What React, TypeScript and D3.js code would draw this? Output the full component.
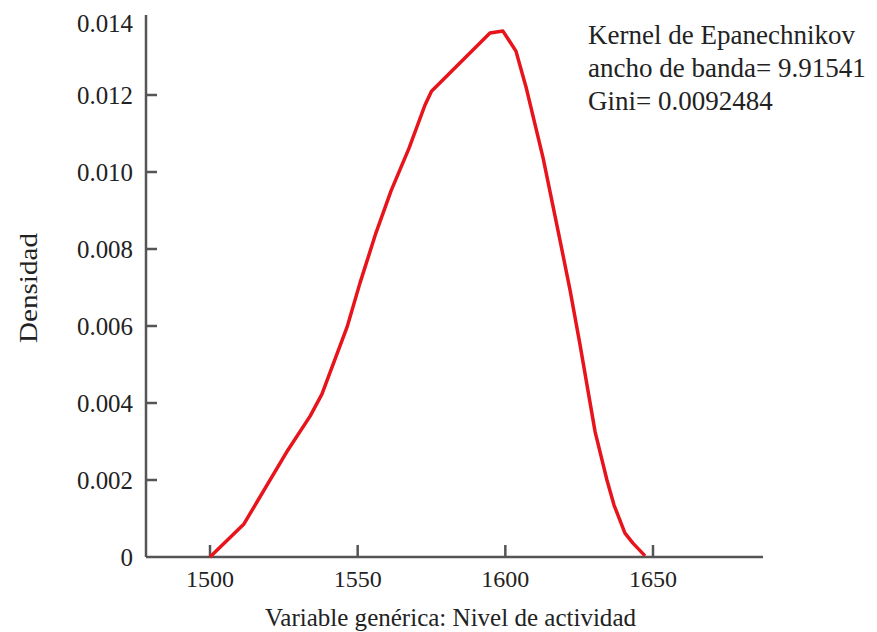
import React from "react";
import * as d3 from "d3";

const xs = [1500, 1511.5, 1526.4, 1533.9, 1537.9, 1546.4, 1550.8, 1556.2, 1561.3, 1567.4, 1572.8, 1575.0, 1594.8, 1599.2, 1603.6, 1607.0, 1612.8, 1618.5, 1621.9, 1625.3, 1630.4, 1634.4, 1636.8, 1640.5, 1643.2, 1647.3];
const ys = [0, 0.00086, 0.00278, 0.00366, 0.00423, 0.00597, 0.00712, 0.00842, 0.00951, 0.01062, 0.01174, 0.0121, 0.01361, 0.01366, 0.01314, 0.01221, 0.01036, 0.00823, 0.00694, 0.00551, 0.00325, 0.002, 0.00135, 0.00062, 0.00036, 0.00003];
const xTicks = [1500, 1550, 1600, 1650];
const yTicks = [0, 0.002, 0.004, 0.006, 0.008, 0.01, 0.012, 0.014];
const yTickLabels = ["0", "0.002", "0.004", "0.006", "0.008", "0.010", "0.012", "0.014"];
const noteLines = ["Kernel de Epanechnikov", "ancho de banda= 9.91541", "Gini= 0.0092484"];

const FONT = "'Liberation Serif', 'DejaVu Serif', serif";

export default function App() {
  const W = 877, H = 632;
  const x = d3.scaleLinear().domain([1500, 1650]).range([210, 653]);
  const y = d3.scaleLinear().domain([0, 0.012]).range([557, 95]);
  const x0 = x.invert(146), x1 = x.invert(763);
  const line = d3.line<number>().x((_, i) => x(xs[i])).y((d) => y(d));
  const axisColor = "#555";
  return (
    <svg width={W} height={H} style={{ position: "absolute", left: 0, top: 0, background: "#fff" }}>
      <g fontFamily={FONT} fill="#222">
        <line x1={x(x0)} x2={x(x0)} y1={557} y2={15} stroke={axisColor} strokeWidth={2.5} />
        <line x1={x(x0)} x2={x(x1)} y1={y(0)} y2={y(0)} stroke={axisColor} strokeWidth={2.5} />
        {yTicks.map((t, i) => (
          <g key={t}>
            {i > 0 && i < yTicks.length - 1 && (
              <line x1={x(x0)} x2={x(x0) + 11} y1={y(t)} y2={y(t)} stroke={axisColor} strokeWidth={2.5} />
            )}
            <text x={133} y={y(t) + (i === yTicks.length - 1 ? 5 : 0)} dy="0.35em" textAnchor="end" fontSize={25} textLength={i === 0 ? undefined : 56} lengthAdjust="spacingAndGlyphs">
              {yTickLabels[i]}
            </text>
          </g>
        ))}
        {xTicks.map((t) => (
          <g key={t}>
            <line x1={x(t)} x2={x(t)} y1={y(0)} y2={y(0) - 12} stroke={axisColor} strokeWidth={2.5} />
            <text x={x(t)} y={587} textAnchor="middle" fontSize={24}>{t}</text>
          </g>
        ))}
        <text x={450.5} y={626} textAnchor="middle" fontSize={25} textLength={371} lengthAdjust="spacingAndGlyphs">Variable genérica: Nivel de actividad</text>
        <text transform="translate(37,288) rotate(-90)" textAnchor="middle" fontSize={26} textLength={110} lengthAdjust="spacingAndGlyphs">Densidad</text>
        {noteLines.map((s, i) => (
          <text key={s} x={588} y={44 + i * 33} fontSize={27}>{s}</text>
        ))}
      </g>
      <path d={line(ys) || ""} fill="none" stroke="#e8141c" strokeWidth={3.5} strokeLinejoin="round" />
    </svg>
  );
}
